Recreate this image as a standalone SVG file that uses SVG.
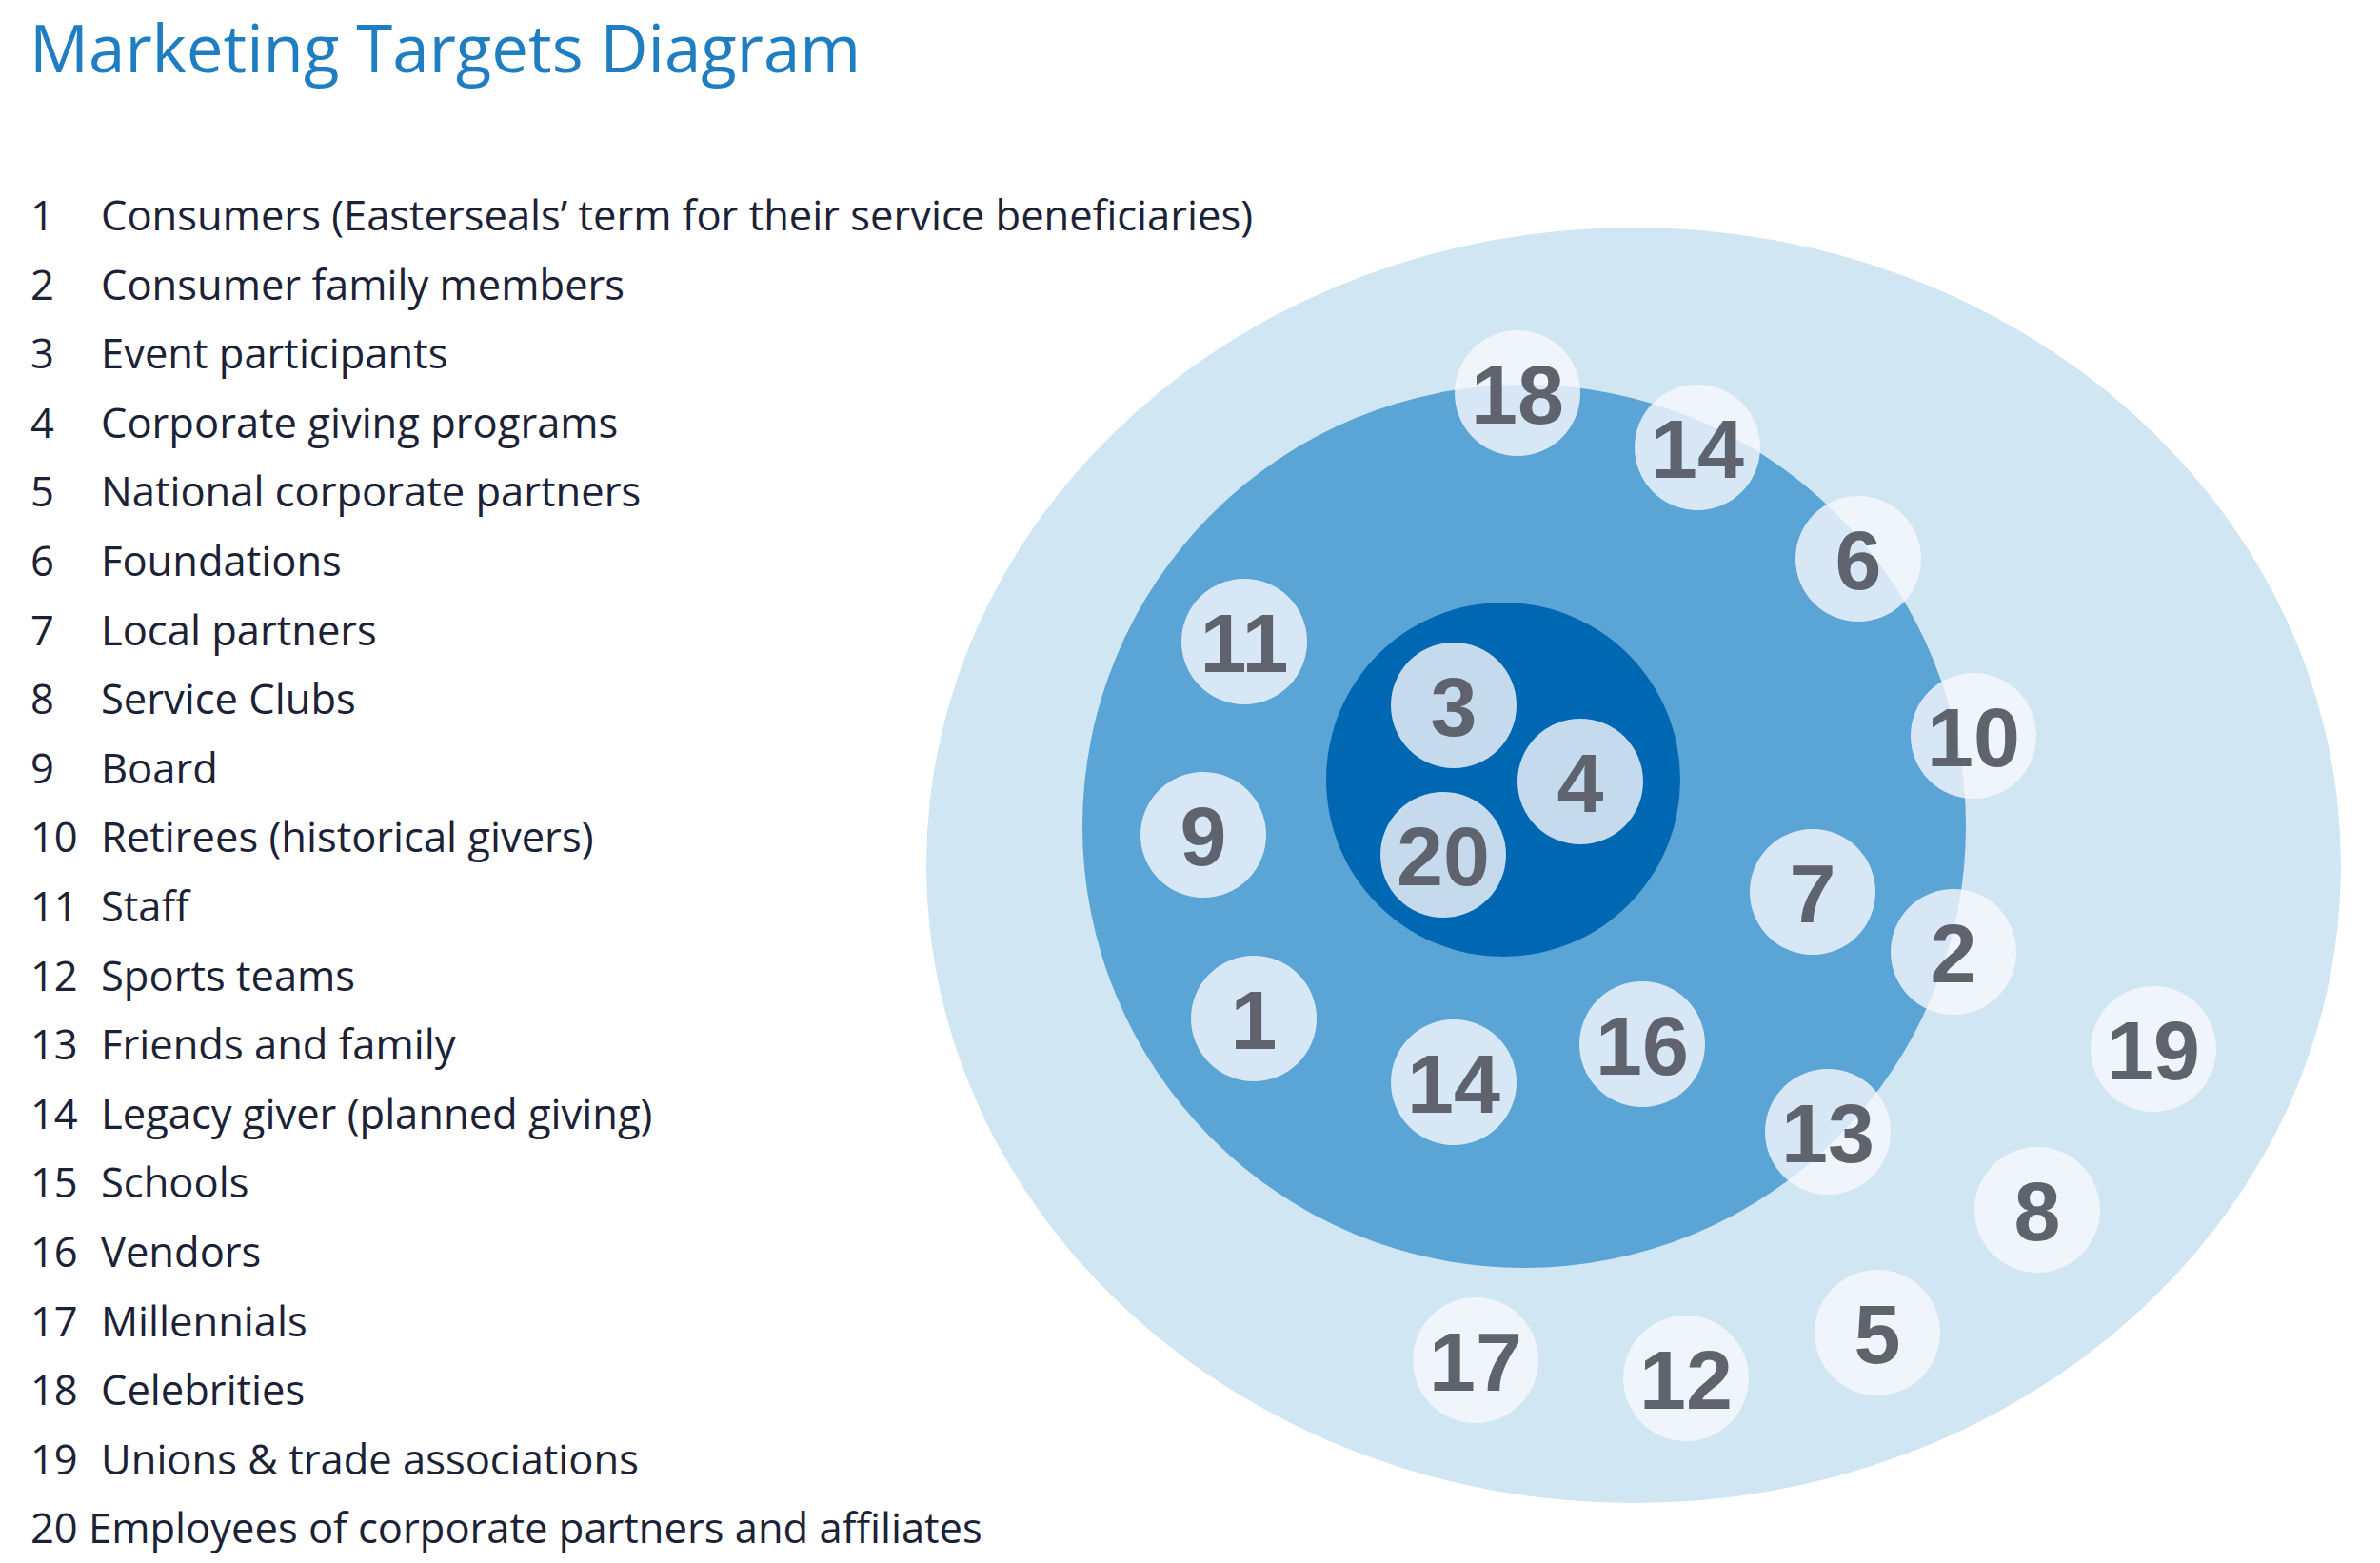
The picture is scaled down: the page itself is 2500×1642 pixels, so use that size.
<svg xmlns="http://www.w3.org/2000/svg" width="2500" height="1642" viewBox="0 0 2500 1642">
<style>
.title{font-family:"Open Sans","Liberation Sans",sans-serif;font-size:69px;fill:#1f7dc1}
.item{font-family:"Open Sans","Liberation Sans",sans-serif;font-size:43.5px;fill:#1c2236}
.badge{fill:#f7f8fd;fill-opacity:0.8}
.num{font-family:"Liberation Sans",Arial,sans-serif;font-weight:bold;font-size:88px;fill:#5f636e;text-anchor:middle}
</style>
<rect width="2500" height="1642" fill="#ffffff"/>
<text class="title" x="31" y="76">Marketing Targets Diagram</text>
<g id="legend">
<text class="item" x="32" y="242">1</text><text class="item" x="106" y="242">Consumers (Easterseals’ term for their service beneficiaries)</text>
<text class="item" x="32" y="315">2</text><text class="item" x="106" y="315">Consumer family members</text>
<text class="item" x="32" y="387">3</text><text class="item" x="106" y="387">Event participants</text>
<text class="item" x="32" y="460">4</text><text class="item" x="106" y="460">Corporate giving programs</text>
<text class="item" x="32" y="532">5</text><text class="item" x="106" y="532">National corporate partners</text>
<text class="item" x="32" y="605">6</text><text class="item" x="106" y="605">Foundations</text>
<text class="item" x="32" y="678">7</text><text class="item" x="106" y="678">Local partners</text>
<text class="item" x="32" y="750">8</text><text class="item" x="106" y="750">Service Clubs</text>
<text class="item" x="32" y="823">9</text><text class="item" x="106" y="823">Board</text>
<text class="item" x="32" y="895">10</text><text class="item" x="106" y="895">Retirees (historical givers)</text>
<text class="item" x="32" y="968">11</text><text class="item" x="106" y="968">Staff</text>
<text class="item" x="32" y="1041">12</text><text class="item" x="106" y="1041">Sports teams</text>
<text class="item" x="32" y="1113">13</text><text class="item" x="106" y="1113">Friends and family</text>
<text class="item" x="32" y="1186">14</text><text class="item" x="106" y="1186">Legacy giver (planned giving)</text>
<text class="item" x="32" y="1258">15</text><text class="item" x="106" y="1258">Schools</text>
<text class="item" x="32" y="1331">16</text><text class="item" x="106" y="1331">Vendors</text>
<text class="item" x="32" y="1404">17</text><text class="item" x="106" y="1404">Millennials</text>
<text class="item" x="32" y="1476">18</text><text class="item" x="106" y="1476">Celebrities</text>
<text class="item" x="32" y="1549">19</text><text class="item" x="106" y="1549">Unions &amp; trade associations</text>
<text class="item" x="32" y="1621">20 Employees of corporate partners and affiliates</text>
</g>
<g id="rings">
<ellipse id="ring-outer" cx="1716" cy="909" rx="743" ry="670" fill="#d0e6f2"/>
<circle id="ring-middle" cx="1601" cy="868" r="464" fill="#5aa5d5"/>
<circle id="ring-inner" cx="1579" cy="819" r="186" fill="#0067b3"/>
</g>
<g id="connectors"></g>
<g id="n18"><circle class="badge" cx="1594" cy="413" r="66"/><text class="num" x="1594" y="445">18</text></g>
<g id="n14a"><circle class="badge" cx="1783" cy="470" r="66"/><text class="num" x="1783" y="502">14</text></g>
<g id="n6"><circle class="badge" cx="1952" cy="587" r="66"/><text class="num" x="1952" y="619">6</text></g>
<g id="n11"><circle class="badge" cx="1307" cy="674" r="66"/><text class="num" x="1307" y="706">11</text></g>
<g id="n3"><circle class="badge" cx="1527" cy="741" r="66"/><text class="num" x="1527" y="773">3</text></g>
<g id="n4"><circle class="badge" cx="1660" cy="821" r="66"/><text class="num" x="1660" y="853">4</text></g>
<g id="n20"><circle class="badge" cx="1516" cy="898" r="66"/><text class="num" x="1516" y="930">20</text></g>
<g id="n10"><circle class="badge" cx="2073" cy="773" r="66"/><text class="num" x="2073" y="805">10</text></g>
<g id="n9"><circle class="badge" cx="1264" cy="877" r="66"/><text class="num" x="1264" y="909">9</text></g>
<g id="n7"><circle class="badge" cx="1904" cy="937" r="66"/><text class="num" x="1904" y="969">7</text></g>
<g id="n2"><circle class="badge" cx="2052" cy="1000" r="66"/><text class="num" x="2052" y="1032">2</text></g>
<g id="n1"><circle class="badge" cx="1317" cy="1070" r="66"/><text class="num" x="1317" y="1102">1</text></g>
<g id="n16"><circle class="badge" cx="1725" cy="1097" r="66"/><text class="num" x="1725" y="1129">16</text></g>
<g id="n14b"><circle class="badge" cx="1527" cy="1137" r="66"/><text class="num" x="1527" y="1169">14</text></g>
<g id="n13"><circle class="badge" cx="1920" cy="1189" r="66"/><text class="num" x="1920" y="1221">13</text></g>
<g id="n19"><circle class="badge" cx="2262" cy="1102" r="66"/><text class="num" x="2262" y="1134">19</text></g>
<g id="n8"><circle class="badge" cx="2140" cy="1271" r="66"/><text class="num" x="2140" y="1303">8</text></g>
<g id="n5"><circle class="badge" cx="1972" cy="1400" r="66"/><text class="num" x="1972" y="1432">5</text></g>
<g id="n17"><circle class="badge" cx="1550" cy="1429" r="66"/><text class="num" x="1550" y="1461">17</text></g>
<g id="n12"><circle class="badge" cx="1771" cy="1448" r="66"/><text class="num" x="1771" y="1480">12</text></g>
</svg>
